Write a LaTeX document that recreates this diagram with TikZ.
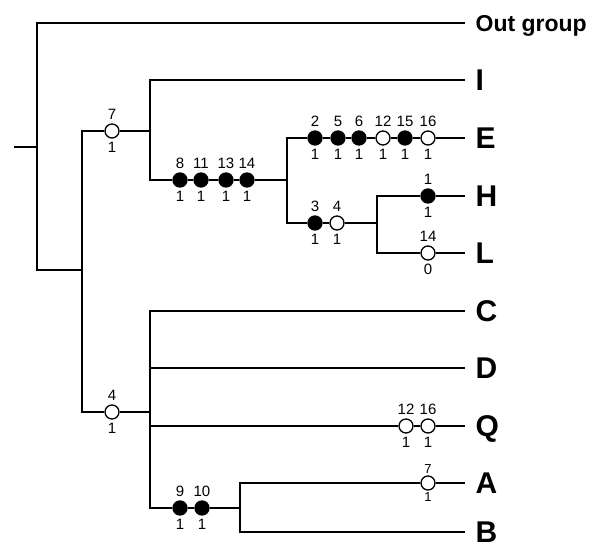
\documentclass[tikz,border=0pt]{standalone}
\usepackage{fontspec}
\setmainfont{Liberation Sans}

\begin{document}
\begin{tikzpicture}[
    x=1pt, y=-1pt,
    line width=1.3pt,
    every node/.style={font=\fontsize{15}{15}\selectfont},
    every label/.style={inner sep=3pt},
    leaf/.style={anchor=west, inner xsep=10pt, inner ysep=0pt, text depth=0pt, font=\fontsize{30}{30}\selectfont\bfseries},
    chr/.style={circle, draw, minimum size=14pt, inner sep=0pt, line width=1.3pt},
    full/.style={chr, fill=black},
    hollow/.style={chr, fill=white},
  ]
    \useasboundingbox (0,0) rectangle (592,548);

    % terminal taxa
    \node[leaf, font=\fontsize{23}{23}\selectfont\bfseries] (tOut) at (465,23) {Out group};
    \node[leaf] (tI) at (465,80) {I};
    \node[leaf] (tE) at (465,138) {E};
    \node[leaf] (tH) at (465,196) {H};
    \node[leaf] (tL) at (465,253) {L};
    \node[leaf] (tC) at (465,311) {C};
    \node[leaf] (tD) at (465,368) {D};
    \node[leaf] (tQ) at (465,426) {Q};
    \node[leaf] (tA) at (465,483) {A};
    \node[leaf] (tB) at (465,532) {B};

    % internal nodes
    \coordinate (stub) at (14,147);
    \coordinate (n0) at (37,147);
    \coordinate (n1) at (82,270);
    \coordinate (n2) at (150,131);
    \coordinate (n3) at (287,180);
    \coordinate (n4) at (377,223);
    \coordinate (n5) at (150,412);
    \coordinate (n6) at (240,508);

    % character changes
    \node[hollow, label=above:7, label=below:1] (c7) at (112,131) {};
    \node[hollow, label=above:4, label=below:1] (c4) at (112,412) {};

    \node[full, label=above:8, label=below:1] (m8) at (180,180) {};
    \node[full, label=above:11, label=below:1] (m11) at (201,180) {};
    \node[full, label=above:13, label=below:1] (m13) at (226,180) {};
    \node[full, label=above:14, label=below:1] (m14) at (247,180) {};

    \node[full, label=above:2, label=below:1] (e2) at (315,138) {};
    \node[full, label=above:5, label=below:1] (e5) at (338,138) {};
    \node[full, label=above:6, label=below:1] (e6) at (359,138) {};
    \node[hollow, label=above:12, label=below:1] (e12) at (383,138) {};
    \node[full, label=above:15, label=below:1] (e15) at (405,138) {};
    \node[hollow, label=above:16, label=below:1] (e16) at (428,138) {};

    \node[full, label=above:3, label=below:1] (p3) at (315,223) {};
    \node[hollow, label=above:4, label=below:1] (p4) at (337,223) {};
    \node[full, label=above:1, label=below:1] (h1) at (428,196) {};
    \node[hollow, label=above:14, label=below:0] (l14) at (428,253) {};

    \node[hollow, label=above:12, label=below:1] (q12) at (406,426) {};
    \node[hollow, label=above:16, label=below:1] (q16) at (428,426) {};
    \node[full, label=above:9, label=below:1] (s9) at (180,508) {};
    \node[full, label=above:10, label=below:1] (s10) at (202,508) {};
    \node[hollow, label={[inner sep=1pt, font=\fontsize{13}{13}\selectfont]above:7}, label={[inner sep=1pt, font=\fontsize{13}{13}\selectfont]below:1}] (a7) at (428,483) {};

    % branches
    \draw (stub) -- (n0);
    \draw (n0) |- (tOut);
    \draw (n0) |- (n1);
    \draw (n1) |- (c7) -- (n2);
    \draw (n1) |- (c4) -- (n5);
    \draw (n2) |- (tI);
    \draw (n2) |- (m8) -- (m11) -- (m13) -- (m14) -- (n3);
    \draw (n3) |- (e2) -- (e5) -- (e6) -- (e12) -- (e15) -- (e16) -- (tE);
    \draw (n3) |- (p3) -- (p4) -- (n4);
    \draw (n4) |- (h1) -- (tH);
    \draw (n4) |- (l14) -- (tL);
    \draw (n5) |- (tC);
    \draw (n5) |- (tD);
    \draw (n5) |- (q12) -- (q16) -- (tQ);
    \draw (n5) |- (s9) -- (s10) -- (n6);
    \draw (n6) |- (a7) -- (tA);
    \draw (n6) |- (tB);
\end{tikzpicture}
\end{document}
